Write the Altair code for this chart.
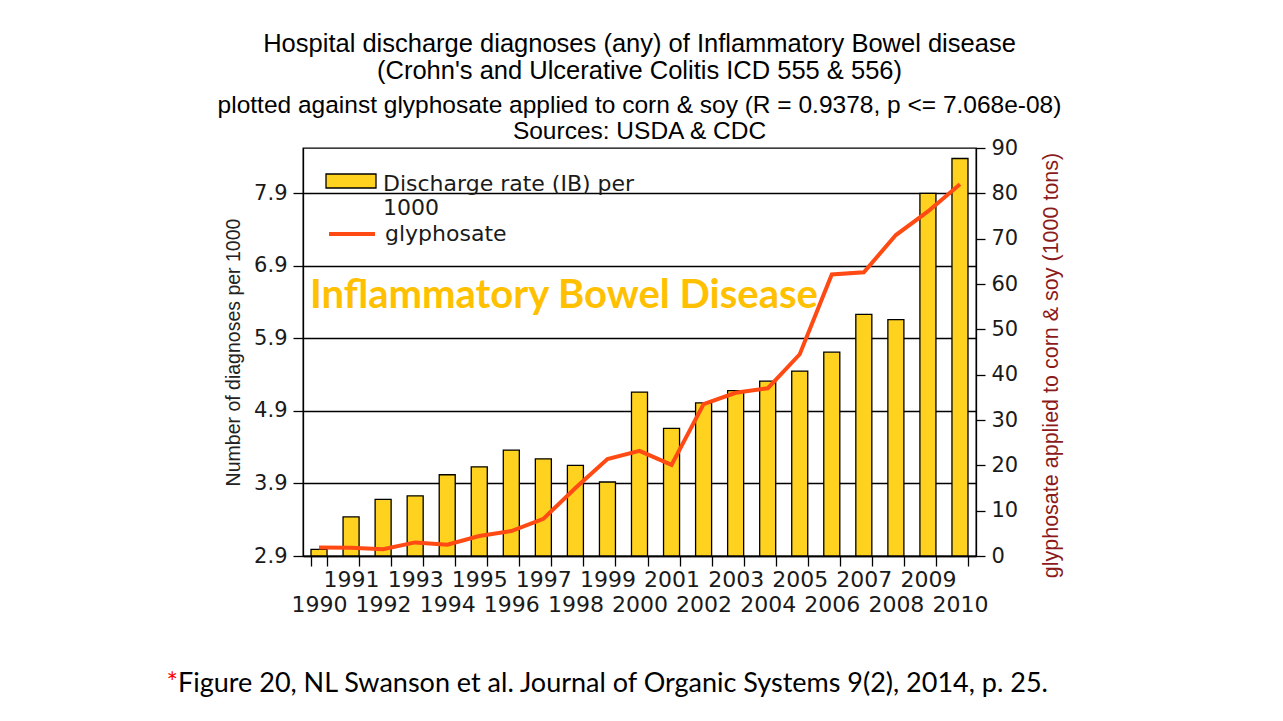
import altair as alt
import pandas as pd

# ---- data ----
years = list(range(1990, 2011))
discharge_rate = [2.99, 3.44, 3.68, 3.73, 4.02, 4.13, 4.36, 4.24, 4.15, 3.92,
                  5.16, 4.66, 5.01, 5.18, 5.31, 5.45, 5.71, 6.23, 6.16, 7.90, 8.38]
glyphosate = [1.9, 1.8, 1.5, 3.0, 2.5, 4.4, 5.5, 8.2, 15.0, 21.4,
              23.2, 20.1, 33.5, 36.0, 37.0, 44.5, 62.1, 62.6, 70.8, 76.0, 82.0]
left_ticks = [2.9, 3.9, 4.9, 5.9, 6.9, 7.9]
right_ticks = [0, 10, 20, 30, 40, 50, 60, 70, 80, 90]
series_names = ["Discharge rate (IB) per 1000", "glyphosate"]

title_lines = ["Hospital discharge diagnoses (any) of Inflammatory Bowel disease",
               "(Crohn's and Ulcerative Colitis  ICD 555 & 556)"]
subtitle_lines = ["plotted against glyphosate applied to corn & soy (R = 0.9378, p <= 7.068e-08)",
                  "Sources: USDA & CDC"]
left_title = "Number of diagnoses per 1000"
right_title = "glyphosate applied to corn & soy (1000 tons)"
overlay_text = ["Inflammatory Bowel Disease"]
caption_star = ["*"]
caption_text = ["Figure 20, NL Swanson et al. Journal of Organic Systems 9(2), 2014, p. 25."]

df = pd.DataFrame({
    "year": years,
    "rate": discharge_rate,
    "gly": glyphosate,
    "s1": series_names[0],
    "s2": series_names[1],
})

LAB_FONT = "DejaVu Sans"
TXT_FONT = "Liberation Sans"

x_enc = alt.X(
    "year:O",
    scale=alt.Scale(paddingInner=0.5, paddingOuter=0.25),
    axis=alt.Axis(
        title=None, labelAngle=0, tickBand="extent", labelOverlap=False,
        labelExpr="datum.value % 2 == 1 ? [datum.label] : ['', datum.label]",
        labelFont=LAB_FONT, labelFontSize=22, labelLineHeight=25,
        labelColor="#1a1a1a", labelPadding=3, tickSize=10, tickColor="black",
        tickWidth=1.3, domainColor="black", domainWidth=1.3,
    ),
)

bars = alt.Chart(df).mark_bar(stroke="black", strokeWidth=1.3).encode(
    x=x_enc,
    y=alt.Y(
        "rate:Q",
        scale=alt.Scale(domain=[2.9, 8.525], nice=False, zero=False),
        axis=alt.Axis(
            orient="left", values=left_ticks, format=".1f", grid=True,
            gridColor="black", gridWidth=1.3, title=left_title,
            titleFont=TXT_FONT, titleFontSize=19.5, titleFontWeight="normal",
            titleColor="#222222", titlePadding=10,
            labelFont=LAB_FONT, labelFontSize=21, labelColor="#1a1a1a",
            labelPadding=6, tickSize=10, tickColor="black", tickWidth=1.3,
            domainColor="black", domainWidth=1.3,
        ),
    ),
    y2=alt.datum(2.9),
    fill=alt.Fill(
        "s1:N",
        scale=alt.Scale(domain=[series_names[0]], range=["#FFD21F"]),
        legend=alt.Legend(
            orient="none", legendX=22, legendY=10, title=None, padding=0,
            symbolType="M-1,-0.4L1,-0.4L1,0.16L-1,0.16Z", symbolSize=2500,
            symbolStrokeColor="black", symbolStrokeWidth=1.3, symbolOpacity=1,
            labelExpr="['Discharge rate (IB) per', '1000']",
            labelFont=LAB_FONT, labelFontSize=22, labelColor="#1a1a1a",
            labelOffset=6, labelLimit=0, labelBaseline="middle",
        ),
    ),
)

line = alt.Chart(df).mark_line(strokeWidth=4).encode(
    x=alt.X("year:O"),
    y=alt.Y(
        "gly:Q",
        scale=alt.Scale(domain=[0, 90], nice=False),
        axis=alt.Axis(
            orient="right", values=right_ticks, grid=False, title=right_title,
            titleFont=TXT_FONT, titleFontSize=21.5, titleFontWeight="normal",
            titleColor="#8B1A1A", titleAngle=270, titlePadding=45, titleY=217,
            labelFont=LAB_FONT, labelFontSize=21, labelColor="#1a1a1a",
            labelPadding=6, tickSize=9, tickColor="black", tickWidth=1.3,
            domainColor="black", domainWidth=1.3,
        ),
    ),
    stroke=alt.Stroke(
        "s2:N",
        scale=alt.Scale(domain=[series_names[1]], range=["#FF4A14"]),
        legend=alt.Legend(
            orient="none", legendX=24, legendY=61, title=None, padding=0,
            symbolType="stroke", symbolSize=2116, symbolStrokeWidth=4,
            labelFont=LAB_FONT, labelFontSize=22, labelColor="#1a1a1a",
            labelOffset=8, labelLimit=0,
        ),
    ),
)

overlay = alt.Chart(pd.DataFrame({"t": overlay_text})).mark_text(
    font="Lato", fontWeight="bold", fontSize=40, color="#FFC000",
    align="left", baseline="middle",
).encode(text="t:N", x=alt.value(7), y=alt.value(148))

star = alt.Chart(pd.DataFrame({"t": caption_star})).mark_text(
    font="Lato", fontSize=27, color="#FF0000", align="right", baseline="alphabetic",
).encode(text="t:N", x=alt.value(-125), y=alt.value(544))

caption = alt.Chart(pd.DataFrame({"t": caption_text})).mark_text(
    font="Lato", fontSize=27, color="black", align="left", baseline="alphabetic",
).encode(text="t:N", x=alt.value(-125), y=alt.value(544))

chart = alt.layer(bars, line, overlay, star, caption).resolve_scale(
    y="independent"
).properties(
    width=673,
    height=408,
    padding={"left": 295, "top": 140, "right": 299, "bottom": 157},
    autosize=alt.AutoSizeParams(type="none"),
    background="white",
    title=alt.TitleParams(
        text=title_lines, subtitle=subtitle_lines, anchor="middle", frame="group",
        font=TXT_FONT, fontSize=25.5, fontWeight="normal", color="black", lineHeight=27,
        subtitleFont=TXT_FONT, subtitleFontSize=24.5, subtitleColor="black",
        subtitleLineHeight=26, subtitlePadding=9, offset=8, dy=14,
    ),
).configure_view(stroke="black", strokeWidth=1.3)

chart.save("out.html", embed_options={"renderer": "svg", "actions": False})
